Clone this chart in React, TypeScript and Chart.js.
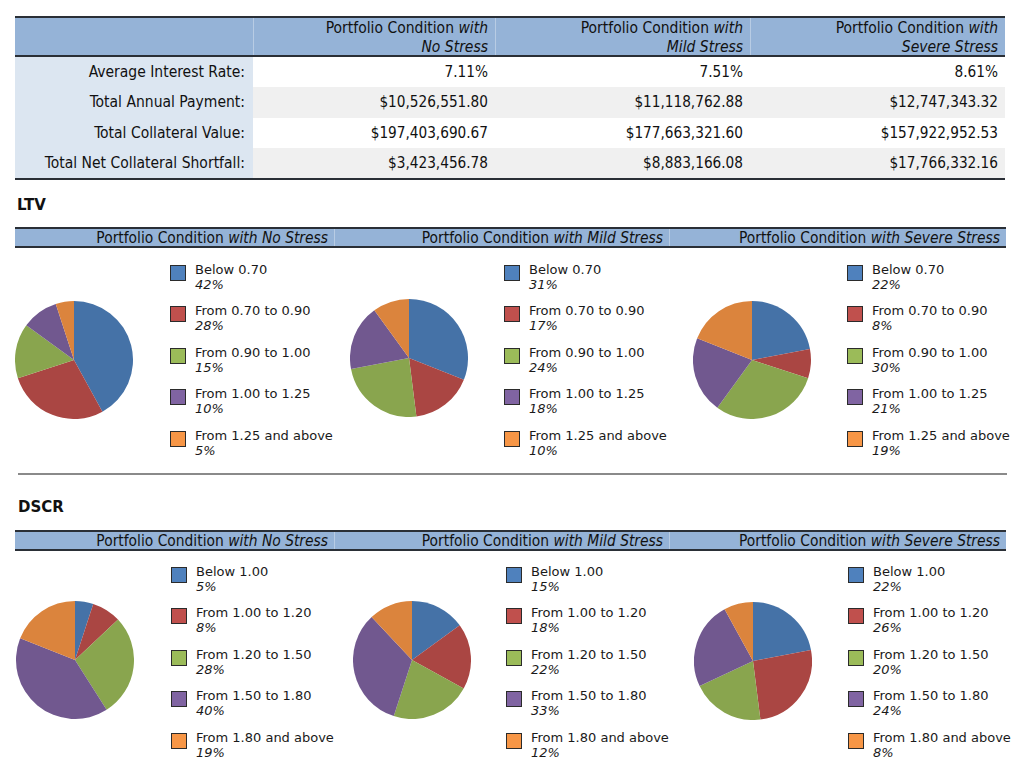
import React, { useEffect, useRef } from "react";
import { Chart, registerables } from "chart.js";

Chart.register(...registerables);

// ---------- DATA ----------
const tableRowLabels = [
  "Average Interest Rate:",
  "Total Annual Payment:",
  "Total Collateral Value:",
  "Total Net Collateral Shortfall:",
];
const tableNoStress = ["7.11%", "$10,526,551.80", "$197,403,690.67", "$3,423,456.78"];
const tableMildStress = ["7.51%", "$11,118,762.88", "$177,663,321.60", "$8,883,166.08"];
const tableSevereStress = ["8.61%", "$12,747,343.32", "$157,922,952.53", "$17,766,332.16"];

const scenarioNames = ["No Stress", "Mild Stress", "Severe Stress"];

const ltvCategories = [
  "Below 0.70",
  "From 0.70 to 0.90",
  "From 0.90 to 1.00",
  "From 1.00 to 1.25",
  "From 1.25 and above",
];
const ltvNoStress = [42, 28, 15, 10, 5];
const ltvMildStress = [31, 17, 24, 18, 10];
const ltvSevereStress = [22, 8, 30, 21, 19];

const dscrCategories = [
  "Below 1.00",
  "From 1.00 to 1.20",
  "From 1.20 to 1.50",
  "From 1.50 to 1.80",
  "From 1.80 and above",
];
const dscrNoStress = [5, 8, 28, 40, 19];
const dscrMildStress = [15, 18, 22, 33, 12];
const dscrSevereStress = [22, 26, 20, 24, 8];

// ---------- STYLE ----------
const sliceColors = ["#4572A7", "#AA4643", "#89A54E", "#71588F", "#DB843D"];
const swatchColors = ["#4F81BD", "#C0504D", "#9BBB59", "#8064A2", "#F79646"];
const headerBlue = "#95B3D7";
const headerSep = "#B8CCE4";
const labelBlue = "#DCE6F1";
const rowGray = "#F0F0F0";
const darkLine = "#2A2F36";

const TABLE_FONT = '"DejaVu Sans Condensed", "DejaVu Sans", sans-serif';
const LEGEND_FONT = '"DejaVu Sans", Verdana, sans-serif';

function Pie({ values, labels, cx, cy, r }: { values: number[]; labels: string[]; cx: number; cy: number; r: number }) {
  const ref = useRef<HTMLCanvasElement | null>(null);
  useEffect(() => {
    if (!ref.current) return;
    const chart = new Chart(ref.current, {
      type: "pie",
      data: {
        labels,
        datasets: [
          {
            data: values,
            backgroundColor: sliceColors,
            borderWidth: 0,
          },
        ],
      },
      options: {
        responsive: false,
        animation: false,
        devicePixelRatio: 1,
        layout: { padding: 0 },
        plugins: { legend: { display: false }, tooltip: { enabled: false } },
      },
    });
    return () => chart.destroy();
  }, [values, labels]);
  return (
    <canvas
      ref={ref}
      width={2 * r}
      height={2 * r}
      style={{ position: "absolute", left: cx - r, top: cy - r, width: 2 * r, height: 2 * r }}
    />
  );
}

function Legend({ labels, values, x, y }: { labels: string[]; values: number[]; x: number; y: number }) {
  return (
    <>
      {labels.map((lab, i) => (
        <div key={lab} style={{ position: "absolute", left: x, top: y + i * 41.4 }}>
          <div
            style={{
              position: "absolute",
              left: 0,
              top: 0,
              width: 14,
              height: 14,
              background: swatchColors[i],
              border: "1px solid #2b2b2b",
            }}
          />
          <div
            style={{
              position: "absolute",
              left: 25,
              top: -3,
              whiteSpace: "nowrap",
              fontFamily: LEGEND_FONT,
              fontSize: 13,
              lineHeight: "15px",
              color: "#1a1a1a",
            }}
          >
            <div>{lab}</div>
            <div style={{ fontStyle: "italic" }}>{values[i]}%</div>
          </div>
        </div>
      ))}
    </>
  );
}

function SectionHeader({ top }: { top: number }) {
  const cols = [
    [15, 334],
    [335, 669],
    [670, 1006],
  ];
  return (
    <>
      <div style={{ position: "absolute", left: 15, top: top, width: 991, height: 2, background: darkLine }} />
      <div style={{ position: "absolute", left: 15, top: top + 2, width: 991, height: 17, background: headerSep }} />
      {cols.map(([a, b], i) => (
        <div
          key={i}
          style={{
            position: "absolute",
            left: a,
            top: top + 2,
            width: b - a,
            height: 17,
            background: headerBlue,
            fontFamily: TABLE_FONT,
            fontSize: 15.4,
            lineHeight: "18px",
            textAlign: "right",
            paddingRight: 6,
            boxSizing: "border-box",
            whiteSpace: "nowrap",
            color: "#111",
          }}
        >
          Portfolio Condition <i>with {scenarioNames[i]}</i>
        </div>
      ))}
      <div style={{ position: "absolute", left: 15, top: top + 19, width: 991, height: 2, background: darkLine }} />
    </>
  );
}

function SummaryTable() {
  const colEdges = [15, 253, 495, 750, 1005];
  const valueCols = [tableNoStress, tableMildStress, tableSevereStress];
  const rowTop = 57;
  const rowH = 30.3;
  return (
    <>
      <div style={{ position: "absolute", left: 15, top: 16, width: 990, height: 2, background: darkLine }} />
      <div style={{ position: "absolute", left: 15, top: 18, width: 990, height: 37, background: headerSep }} />
      {[0, 1, 2, 3].map((c) => (
        <div
          key={c}
          style={{
            position: "absolute",
            left: colEdges[c] + (c === 0 ? 0 : 1),
            top: 18,
            width: colEdges[c + 1] - colEdges[c] - (c === 0 ? 0 : 1),
            height: 37,
            background: headerBlue,
            fontFamily: TABLE_FONT,
            fontSize: 15.5,
            lineHeight: "18.5px",
            textAlign: "right",
            paddingRight: 7,
            paddingTop: 1,
            boxSizing: "border-box",
            color: "#111",
            whiteSpace: "nowrap",
          }}
        >
          {c > 0 && (
            <>
              <div>
                Portfolio Condition <i>with</i>
              </div>
              <div>
                <i>{scenarioNames[c - 1]}</i>
              </div>
            </>
          )}
        </div>
      ))}
      <div style={{ position: "absolute", left: 15, top: 55, width: 990, height: 2, background: darkLine }} />
      {tableRowLabels.map((lab, r) => (
        <React.Fragment key={lab}>
          <div
            style={{
              position: "absolute",
              left: 15,
              top: rowTop + r * rowH,
              width: 990,
              height: rowH,
              background: r % 2 === 1 ? rowGray : "#ffffff",
            }}
          />
          <div
            style={{
              position: "absolute",
              left: 15,
              top: rowTop + r * rowH,
              width: 238,
              height: rowH,
              background: labelBlue,
              fontFamily: TABLE_FONT,
              fontSize: 15.5,
              lineHeight: rowH + "px",
              textAlign: "right",
              paddingRight: 8,
              boxSizing: "border-box",
              whiteSpace: "nowrap",
              color: "#111",
            }}
          >
            {lab}
          </div>
          {valueCols.map((col, c) => (
            <div
              key={c}
              style={{
                position: "absolute",
                left: colEdges[c + 1],
                top: rowTop + r * rowH,
                width: colEdges[c + 2] - colEdges[c + 1],
                height: rowH,
                fontFamily: TABLE_FONT,
                fontSize: 15.2,
                lineHeight: rowH + "px",
                textAlign: "right",
                paddingRight: 7,
                boxSizing: "border-box",
                whiteSpace: "nowrap",
                color: "#111",
              }}
            >
              {col[r]}
            </div>
          ))}
        </React.Fragment>
      ))}
      <div style={{ position: "absolute", left: 15, top: 178, width: 990, height: 2, background: darkLine }} />
    </>
  );
}

export default function App() {
  const ltvSeries = [ltvNoStress, ltvMildStress, ltvSevereStress];
  const dscrSeries = [dscrNoStress, dscrMildStress, dscrSevereStress];
  const ltvPies = [
    [74, 360],
    [409, 358],
    [752, 360],
  ];
  const dscrPies = [
    [75, 660],
    [412, 660],
    [753, 661],
  ];
  const ltvLegendX = [170, 504, 847];
  const dscrLegendX = [171, 506, 848];
  return (
    <div
      style={{
        position: "absolute",
        left: 0,
        top: 0,
        width: 1024,
        height: 768,
        background: "#ffffff",
        overflow: "hidden",
      }}
    >
      <SummaryTable />

      <div
        style={{
          position: "absolute",
          left: 17,
          top: 196,
          fontFamily: LEGEND_FONT,
          fontWeight: "bold",
          fontSize: 15,
          lineHeight: "18px",
          color: "#111",
        }}
      >
        LTV
      </div>
      <SectionHeader top={227} />
      {ltvSeries.map((vals, i) => (
        <React.Fragment key={"ltv" + i}>
          <Pie values={vals} labels={ltvCategories} cx={ltvPies[i][0]} cy={ltvPies[i][1]} r={59} />
          <Legend labels={ltvCategories} values={vals} x={ltvLegendX[i]} y={265} />
        </React.Fragment>
      ))}
      <div style={{ position: "absolute", left: 18, top: 473, width: 989, height: 2, background: "#8a8a8a" }} />

      <div
        style={{
          position: "absolute",
          left: 18,
          top: 498,
          fontFamily: LEGEND_FONT,
          fontWeight: "bold",
          fontSize: 15,
          lineHeight: "18px",
          color: "#111",
        }}
      >
        DSCR
      </div>
      <SectionHeader top={530} />
      {dscrSeries.map((vals, i) => (
        <React.Fragment key={"dscr" + i}>
          <Pie values={vals} labels={dscrCategories} cx={dscrPies[i][0]} cy={dscrPies[i][1]} r={59} />
          <Legend labels={dscrCategories} values={vals} x={dscrLegendX[i]} y={567} />
        </React.Fragment>
      ))}
    </div>
  );
}
